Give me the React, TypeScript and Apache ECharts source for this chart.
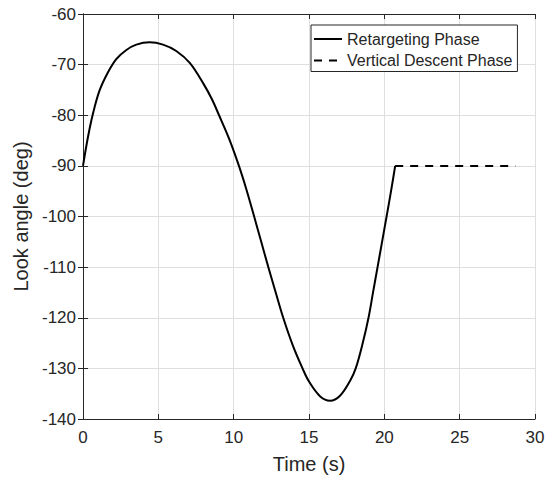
import React, { useEffect, useRef } from "react";
import * as echarts from "echarts";

const retargetT = [0, 0.33, 0.66, 1.1, 1.66, 2.21, 2.88, 3.54, 4.42, 5.31, 6.19, 7.1, 8.0, 8.55, 9.03, 9.72, 10.35, 10.85, 11.36, 11.83, 12.3, 12.8, 13.29, 13.93, 14.57, 15.0, 15.73, 16.4, 17.06, 17.72, 18.1, 18.55, 18.95, 19.25, 19.55, 19.85, 20.15, 20.45, 20.72];
const retargetV = [-90, -84.3, -79.7, -75.1, -71.5, -68.9, -67.1, -66.05, -65.6, -66.05, -67.3, -69.7, -73.8, -76.8, -80, -84.8, -90, -94.7, -100, -105, -110, -115.1, -120, -125.5, -130, -132.6, -135.5, -136.4, -135.4, -132.5, -130, -125.2, -120, -115.0, -110, -105, -100, -94.9, -90];
const descentT = [20.72, 28.7];
const descentV = [-90, -90];

const xTicks = { min: 0, max: 30, interval: 5 };
const yTicks = { min: -140, max: -60, interval: 10 };

const seriesNames = ["Retargeting Phase", "Vertical Descent Phase"];
const xName = "Time (s)";
const yName = "Look angle (deg)";

export default function App() {
  const ref = useRef<HTMLDivElement>(null);
  useEffect(() => {
    if (!ref.current) return;
    const chart = echarts.init(ref.current, undefined, { renderer: "svg" });
    const font = "Liberation Sans";
    const ink = "#262626";
    const grid = "#dfdfdf";
    const baseX = {
      type: "value" as const,
      min: xTicks.min,
      max: xTicks.max,
      interval: xTicks.interval,
    };
    const baseY = {
      type: "value" as const,
      min: yTicks.min,
      max: yTicks.max,
      interval: yTicks.interval,
    };
    chart.setOption({
      animation: false,
      backgroundColor: "#ffffff",
      grid: { left: 83, top: 14, right: 17, bottom: 59, containLabel: false },
      legend: {
        data: seriesNames,
        orient: "vertical",
        left: 311,
        top: 25,
        itemWidth: 28,
        itemHeight: 12,
        itemGap: 5.5,
        padding: [6, 5, 3, 2],
        borderColor: ink,
        borderWidth: 1,
        backgroundColor: "#ffffff",
        selectedMode: false,
        itemStyle: { opacity: 0 },
        textStyle: { fontFamily: font, fontSize: 16, color: ink },
      },
      xAxis: [
        {
          ...baseX,
          position: "bottom",
          name: xName,
          nameLocation: "middle",
          nameGap: 35,
          nameTextStyle: { fontFamily: font, fontSize: 20, color: ink },
          axisLine: { show: true, lineStyle: { color: ink, width: 1 } },
          axisTick: { show: true, inside: true, length: 5, lineStyle: { color: ink } },
          axisLabel: { fontFamily: font, fontSize: 17, color: ink, margin: 10 },
          splitLine: { show: true, lineStyle: { color: grid, width: 1 } },
        },
        {
          ...baseX,
          position: "top",
          axisLine: { show: true, lineStyle: { color: ink, width: 1 } },
          axisTick: { show: true, inside: true, length: 5, lineStyle: { color: ink } },
          axisLabel: { show: false },
          splitLine: { show: false },
        },
      ],
      yAxis: [
        {
          ...baseY,
          position: "left",
          name: yName,
          nameLocation: "middle",
          nameGap: 49,
          nameTextStyle: { fontFamily: font, fontSize: 20, color: ink },
          axisLine: { show: true, lineStyle: { color: ink, width: 1 } },
          axisTick: { show: true, inside: true, length: 5, lineStyle: { color: ink } },
          axisLabel: { fontFamily: font, fontSize: 17, color: ink, margin: 7 },
          splitLine: { show: true, lineStyle: { color: grid, width: 1 } },
        },
        {
          ...baseY,
          position: "right",
          axisLine: { show: true, lineStyle: { color: ink, width: 1 } },
          axisTick: { show: true, inside: true, length: 5, lineStyle: { color: ink } },
          axisLabel: { show: false },
          splitLine: { show: false },
        },
      ],
      series: [
        {
          name: seriesNames[0],
          type: "line",
          xAxisIndex: 0,
          yAxisIndex: 0,
          data: retargetT.map((t, i) => [t, retargetV[i]]),
          showSymbol: false,
          symbol: "none",
          smooth: 0.35,
          lineStyle: { color: "#000000", width: 2 },
          itemStyle: { color: "#000000" },
        },
        {
          name: seriesNames[1],
          type: "line",
          xAxisIndex: 0,
          yAxisIndex: 0,
          data: descentT.map((t, i) => [t, descentV[i]]),
          showSymbol: false,
          symbol: "none",
          lineStyle: { color: "#000000", width: 2, type: [8, 7] },
          itemStyle: { color: "#000000" },
        },
      ],
    });
    return () => chart.dispose();
  }, []);
  return (
    <div
      ref={ref}
      style={{ position: "fixed", left: 0, top: 0, width: 552, height: 479 }}
    />
  );
}
